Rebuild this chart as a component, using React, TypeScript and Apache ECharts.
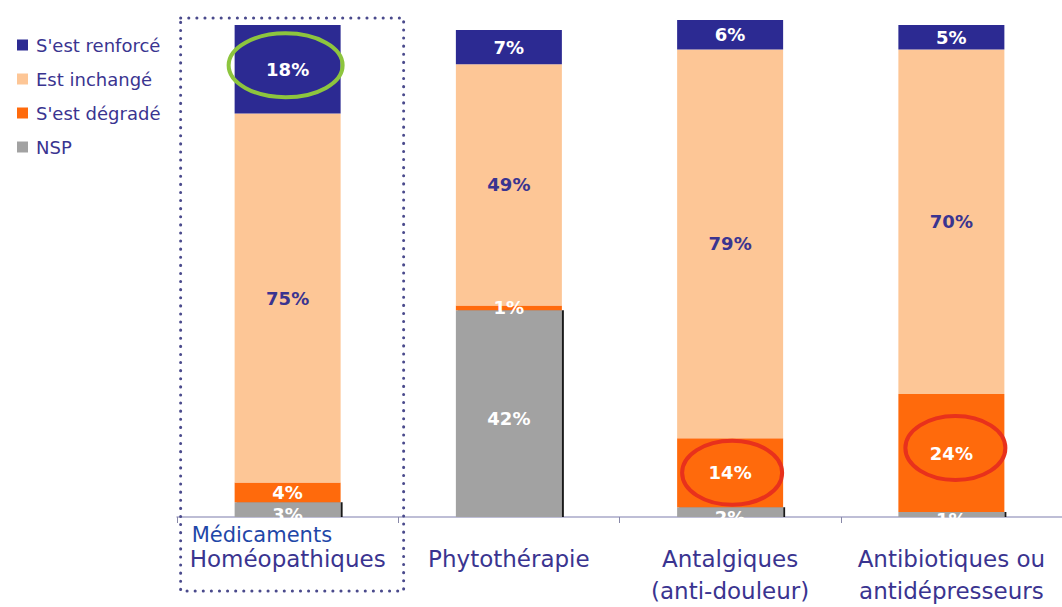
import React, { useEffect, useRef } from "react";
import * as echarts from "echarts";

const categories = [
  "Médicaments Homéopathiques",
  "Phytothérapie",
  "Antalgiques (anti-douleur)",
  "Antibiotiques ou antidépresseurs",
];
const categoryLabels = [
  "Homéopathiques",
  "Phytothérapie",
  "Antalgiques\n(anti-douleur)",
  "Antibiotiques ou\nantidépresseurs",
];
const seriesNames = ["NSP", "S'est dégradé", "Est inchangé", "S'est renforcé"];
const nsp = [3, 42, 2, 1];
const degrade = [4, 1, 14, 24];
const inchange = [75, 49, 79, 70];
const renforce = [18, 7, 6, 5];
const legendOrder = ["S'est renforcé", "Est inchangé", "S'est dégradé", "NSP"];

const COLORS = {
  renforce: "#2c2a92",
  inchange: "#fdc696",
  degrade: "#ff6a0c",
  nsp: "#a2a2a2",
};
const TEXT = "#3a3490";
const FONT = "DejaVu Sans";

export default function App() {
  const ref = useRef<HTMLDivElement>(null);
  useEffect(() => {
    document.body.style.margin = "0";
    const chart = echarts.init(ref.current!, null, { renderer: "svg" });
    const label = (color: string, offsetY = 0) => ({
      show: true,
      position: "inside" as const,
      color,
      fontFamily: FONT,
      fontWeight: "bold" as const,
      fontSize: 18,
      offset: [0, offsetY],
      formatter: (p: any) => `${p.value}%`,
    });
    const bar = (name: string, data: number[], color: string, lbl: any, extra: any = {}) => ({
      name,
      type: "bar",
      stack: "total",
      data,
      barWidth: 106,
      clip: false,
      itemStyle: { color, ...extra },
      label: lbl,
      emphasis: { disabled: true },
    });
    chart.setOption({
      animation: false,
      legend: {
        orient: "vertical",
        left: 12,
        top: 31,
        icon: "rect",
        itemWidth: 11,
        itemHeight: 11,
        itemGap: 16,
        data: legendOrder,
        textStyle: {
          color: TEXT,
          fontFamily: FONT,
          fontSize: 18,
          lineHeight: 18,
          padding: [0, 0, 0, 3],
        },
        selectedMode: false,
      },
      grid: { left: 177, top: 25, width: 888, bottom: 86, containLabel: false },
      xAxis: {
        type: "category",
        data: categories,
        axisLine: { lineStyle: { color: "#a8a8c8", width: 1.5 } },
        axisTick: { show: true, length: 6, lineStyle: { color: "#8888a8" } },
        axisLabel: {
          margin: 26,
          color: TEXT,
          fontFamily: FONT,
          fontSize: 23,
          lineHeight: 32,
          interval: 0,
          formatter: (_v: string, i: number) => categoryLabels[i],
        },
      },
      yAxis: { type: "value", min: 0, max: 100, show: false, splitLine: { show: false } },
      series: [
        bar(seriesNames[0], nsp, COLORS.nsp, label("#ffffff", 5), {
          shadowColor: "rgba(0,0,0,0.9)",
          shadowOffsetX: 2,
          shadowOffsetY: 0,
          shadowBlur: 0,
        }),
        bar(seriesNames[1], degrade, COLORS.degrade, label("#ffffff")),
        bar(seriesNames[2], inchange, COLORS.inchange, label(TEXT)),
        bar(seriesNames[3], renforce, COLORS.renforce, label("#ffffff")),
      ],
    });

    const center = (i: number, base: number, v: number) =>
      chart.convertToPixel({ xAxisIndex: 0, yAxisIndex: 0 }, [i, base + v / 2]) as number[];
    const g = center(0, nsp[0] + degrade[0] + inchange[0], renforce[0]);
    const r1 = center(2, nsp[2], degrade[2]);
    const r2 = center(3, nsp[3], degrade[3]);
    const c0 = chart.convertToPixel({ xAxisIndex: 0 }, 0) as number;

    chart.setOption({
      graphic: [
        {
          type: "rect",
          z: 100,
          shape: { x: c0 - 107, y: 18, width: 223, height: 573 },
          style: {
            fill: "none",
            stroke: "#4a4a8c",
            lineWidth: 3,
            lineDash: [0.1, 8],
            lineCap: "round",
          },
          silent: true,
        },
        {
          type: "ellipse",
          z: 100,
          shape: { cx: g[0] - 2, cy: g[1] - 4, rx: 57, ry: 32 },
          style: { fill: "none", stroke: "#8dc53e", lineWidth: 4 },
          silent: true,
        },
        {
          type: "ellipse",
          z: 100,
          shape: { cx: r1[0] + 2, cy: r1[1], rx: 50, ry: 32 },
          style: { fill: "none", stroke: "#e8311c", lineWidth: 4 },
          silent: true,
        },
        {
          type: "ellipse",
          z: 100,
          shape: { cx: r2[0] + 4, cy: r2[1] - 5, rx: 50, ry: 32 },
          style: { fill: "none", stroke: "#e8311c", lineWidth: 4 },
          silent: true,
        },
        {
          type: "text",
          z: 100,
          x: c0 - 96,
          y: 535,
          style: {
            text: "Médicaments",
            fill: "#1f47a8",
            font: `21px "${FONT}"`,
            verticalAlign: "middle",
            align: "left",
          },
          silent: true,
        },
      ],
    });
    return () => chart.dispose();
  }, []);
  return <div ref={ref} style={{ width: 1062, height: 607 }} />;
}
